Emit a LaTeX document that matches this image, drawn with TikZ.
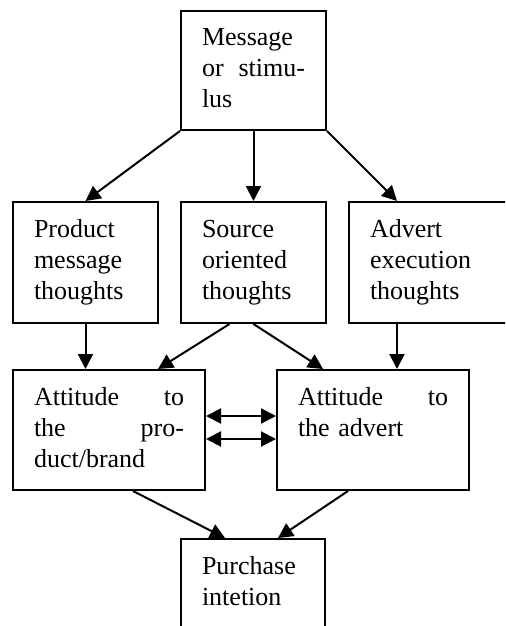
\documentclass[tikz,border=0pt]{standalone}
\usepackage{fontspec}
\setmainfont{Liberation Serif}
\usetikzlibrary{arrows.meta,calc}

\begin{document}
\begin{tikzpicture}[x=0.5pt, y=-0.5pt,
    box/.style={draw, line width=1pt, anchor=north west, align=left,
        text width=#1, inner xsep=10.5pt, inner ysep=0pt, text height=17.5pt,
        font=\fontsize{13pt}{15.5pt}\selectfont},
    arr/.style={line width=1pt, -{Triangle[length=7.5pt,width=7.5pt]}},
    dbl/.style={line width=1pt, {Triangle[length=7.5pt,width=7.5pt]}-{Triangle[length=7.5pt,width=7.5pt]}}]
    \useasboundingbox (0,0) rectangle (505,626);
    \clip (0,0) rectangle (505,626);

    % stimulus
    \node[box=51.5pt, text depth=42pt] (msg) at (180,10) {Message\\or\hfill stimu-\\lus};

    % thoughts
    \node[box=51.5pt, text depth=43pt] (prod) at (12,201) {Product\\message\\thoughts};
    \node[box=51.5pt, text depth=43pt] (src) at (180,201) {Source\\oriented\\thoughts};
    \node[box=80pt, text depth=43pt] (adv) at (348,201) {Advert\\execution\\thoughts};

    % attitudes
    \node[box=75pt, text depth=42.5pt] (attp) at (12,369) {Attitude\hfill to\\the\hfill pro-\\duct/brand};
    \node[box=75pt, text depth=42.5pt] (atta) at (276,369) {Attitude\hfill to\\the advert};

    % intention
    \node[box=51pt, text depth=35pt] (buy) at (180,538) {Purchase\\intetion};

    \coordinate (advin) at ($(adv.north west)+(49,0)$);
    \coordinate (advout) at ($(adv.south west)+(49,0)$);
    \coordinate (srcl) at ($(src.south)+(-24,0)$);
    \coordinate (attpin) at ($(attp.north west)+(146,0)$);
    \coordinate (attain) at ($(atta.north west)+(47,0)$);
    \coordinate (link1) at ($(attp.north east)+(0,47)$);
    \coordinate (link2) at ($(attp.north east)+(0,70)$);
    \coordinate (attpout) at ($(attp.south west)+(121,0)$);
    \coordinate (attaout) at ($(atta.south west)+(72,0)$);
    \coordinate (buyl) at ($(buy.north west)+(45,0)$);
    \coordinate (buyr) at ($(buy.north west)+(98,0)$);

    \draw[arr] (msg.south west) -- (prod.north);
    \draw[arr] (msg.south) -- (src.north);
    \draw[arr] (msg.south east) -- (advin);

    \draw[arr] (prod.south) -- (prod.south |- attp.north);
    \draw[arr] (srcl) -- (attpin);
    \draw[arr] (src.south) -- (attain);
    \draw[arr] (advout) -- (advout |- atta.north);

    \draw[dbl] (link1) -- (link1 -| atta.west);
    \draw[dbl] (link2) -- (link2 -| atta.west);

    \draw[arr] (attpout) -- (buyl);
    \draw[arr] (attaout) -- (buyr);
\end{tikzpicture}
\end{document}
